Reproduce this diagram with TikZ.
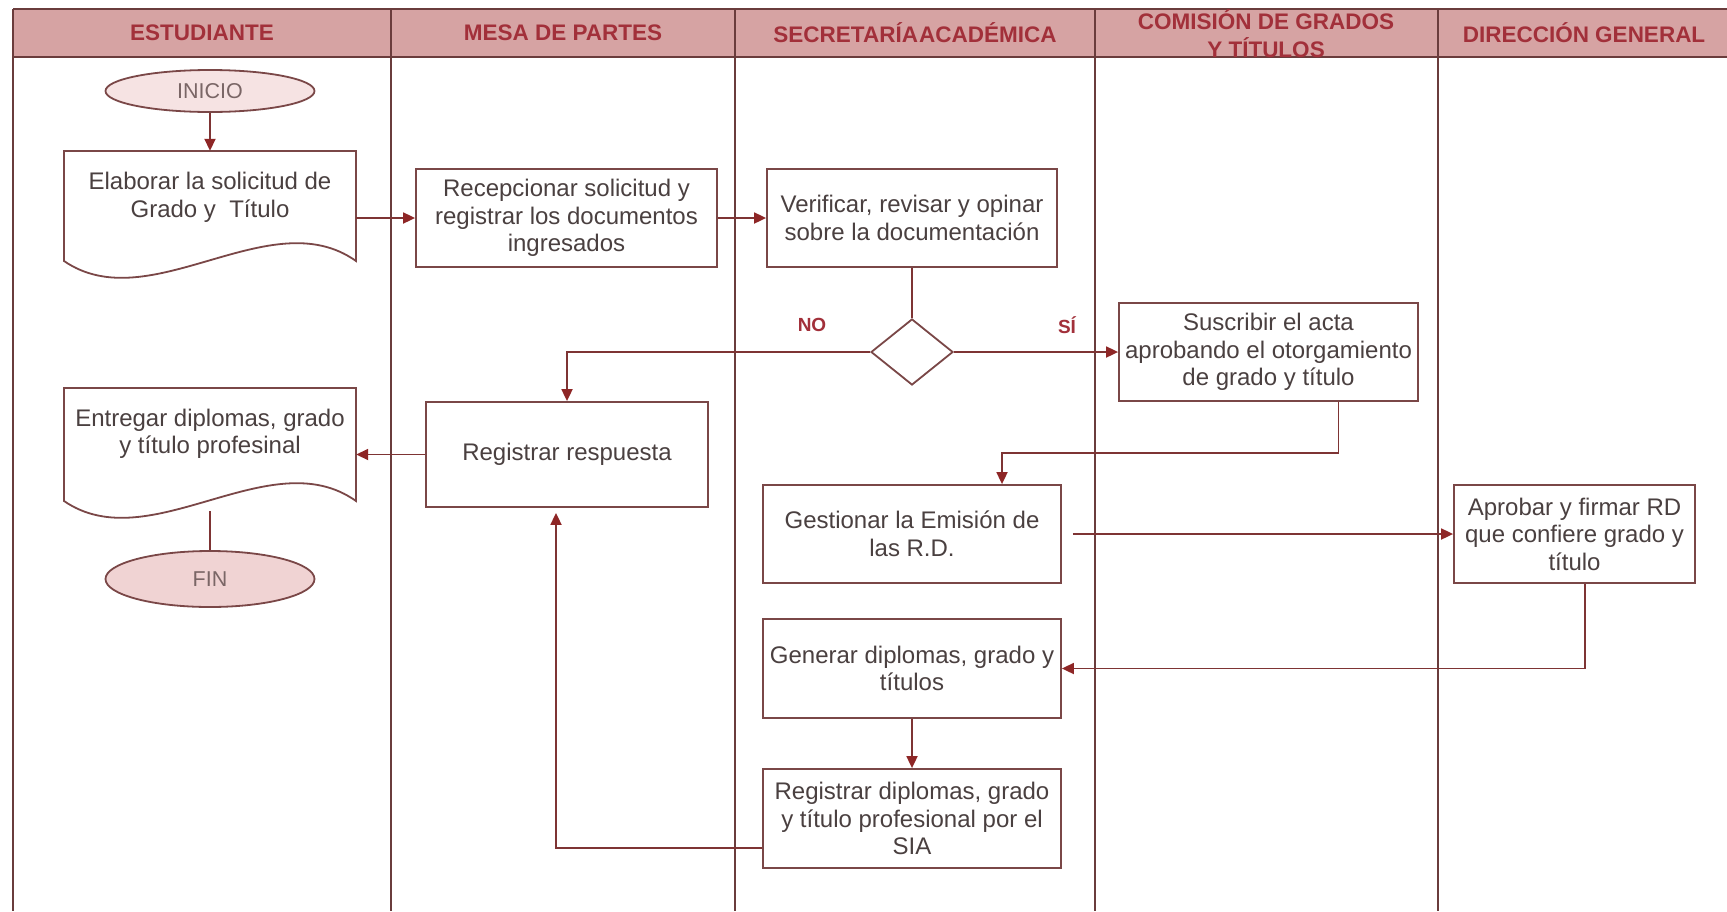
\documentclass[tikz,border=0pt]{standalone}
\usepackage{fontspec}
\setmainfont{Liberation Sans}
\usetikzlibrary{arrows.meta,shapes.geometric}
\definecolor{lanecol}{HTML}{6A3C3C}
\definecolor{boxcol}{HTML}{7A4747}
\definecolor{linecol}{HTML}{7E3434}
\definecolor{arrcol}{HTML}{8E2626}
\definecolor{headfill}{HTML}{D6A3A3}
\definecolor{headtext}{HTML}{A2303A}
\definecolor{txtcol}{HTML}{4A4040}
\definecolor{termtxt}{HTML}{7A6666}
\definecolor{inifill}{HTML}{F6E3E3}
\definecolor{finfill}{HTML}{F0D3D3}
\begin{document}
\begin{tikzpicture}[x=1pt,y=-1pt,
  lane/.style={draw=lanecol,line width=1.8pt},
  headlbl/.style={text=headtext,font=\bfseries\fontsize{22.5}{25}\selectfont,align=center,inner sep=0pt},
  procbox/.style={draw=boxcol,line width=1.8pt,fill=white,align=center,text=txtcol,
     font=\fontsize{24}{27.5}\selectfont,inner sep=0pt},
  docbox/.style={draw=none,inner sep=0pt,minimum width=292pt},
  doctxt/.style={align=center,text=txtcol,font=\fontsize{24}{27.5}\selectfont,inner sep=0pt},
  term/.style={ellipse,draw=boxcol,line width=1.8pt,text=termtxt,
     font=\fontsize{21.5}{24}\selectfont,inner sep=0pt,minimum width=209pt},
  decis/.style={diamond,draw=boxcol,line width=1.8pt,fill=white,inner sep=0pt,
     minimum width=82pt,minimum height=66pt},
  conn/.style={draw=linecol,line width=1.8pt},
  arr/.style={conn,-{Triangle[length=12pt,width=11pt,color=arrcol]}},
  branch/.style={text=headtext,font=\bfseries\fontsize{19}{22}\selectfont,inner sep=0pt}
]
\useasboundingbox (0,0) rectangle (1727,911);
\fill[white] (0,0) rectangle (1727,911);
% header
\fill[headfill] (13,9) rectangle (1727,57);
\draw[lane] (13,9) -- (1727,9);
\draw[lane] (13,57) -- (1727,57);
\foreach \xx in {13,391,735,1095,1438} \draw[lane] (\xx,9) -- (\xx,911);
\node[headlbl] (h1) at (202,33) {ESTUDIANTE};
\node[headlbl] (h2) at (563,33) {MESA DE PARTES};
\node[headlbl] (h3) at (915,33) {SECRETARÍA\hspace{1pt}ACADÉMICA};
\node[headlbl] (h4a) at (1266,20) {COMISIÓN DE GRADOS};
\node[headlbl] (h4b) at (1266,48) {Y TÍTULOS};
\node[headlbl] (h5) at (1584,33) {DIRECCIÓN GENERAL};
% terminals
\node[term,fill=inifill,minimum height=42pt] (ini) at (210,91) {INICIO};
\node[term,fill=finfill,minimum height=56pt] (fin) at (210,579) {FIN};
% documents
\node[docbox,minimum height=110pt] (doc1) at (210,206) {};
\draw[draw=boxcol,line width=1.8pt,fill=white] (64,151) -- (64,261) .. controls (150,320) and (270,200) .. (356,261) -- (356,151) -- cycle;
\node[doctxt] (doc1t) at (210,197.5) {Elaborar la solicitud de\\Grado y~ Título};
\node[docbox,minimum height=113pt] (doc2) at (210,444.5) {};
\draw[draw=boxcol,line width=1.8pt,fill=white] (64,388) -- (64,501) .. controls (150,560) and (270,440) .. (356,501) -- (356,388) -- cycle;
\node[doctxt] (doc2t) at (210,434) {Entregar diplomas, grado\\y título profesinal};
\coordinate (d2b) at (210,511);
% process boxes
\node[procbox,minimum width=301pt,minimum height=98pt] (rec) at (566.5,218) {Recepcionar solicitud y\\registrar los documentos\\ingresados};
\node[procbox,minimum width=290pt,minimum height=98pt] (ver) at (912,218) {Verificar, revisar y opinar\\sobre la documentación};
\node[decis] (dia) at (912,352) {};
\node[branch] (no) at (812,325) {NO};
\node[branch] (si) at (1067,325) {SÍ};
\node[procbox,minimum width=299pt,minimum height=98pt] (sus) at (1268.5,352) {Suscribir el acta\\aprobando el otorgamiento\\de grado y título};
\node[procbox,minimum width=282pt,minimum height=105pt] (resp) at (567,454.5) {Registrar respuesta};
\node[procbox,minimum width=298pt,minimum height=98pt] (ges) at (912,534) {Gestionar la Emisión de\\las R.D.};
\node[procbox,minimum width=241pt,minimum height=98pt] (apr) at (1574.5,534) {Aprobar y firmar RD\\que confiere grado y\\título};
\node[procbox,minimum width=298pt,minimum height=99pt] (gen) at (912,668.5) {Generar diplomas, grado y\\títulos};
\node[procbox,minimum width=298pt,minimum height=99pt] (regd) at (912,818.5) {Registrar diplomas, grado\\y título profesional por el\\SIA};
% connectors
\draw[arr] (ini) -- (doc1.north);
\draw[arr] (rec.west -| doc1.east) -- (rec.west);
\draw[arr] (rec) -- (ver);
\draw[conn] (ver) -- (dia);
\draw[arr] (dia.west) -| (resp.north);
\draw[arr] (dia.east) -- (sus.west);
\draw[arr] ([xshift=70pt]sus.south) -- ++(0,51) -| ([xshift=90pt]ges.north);
\draw[arr] ([xshift=11pt]ges.east) -- (apr.west);
\draw[arr] ([xshift=10.5pt]apr.south) |- (gen.east);
\draw[arr] (gen) -- (regd);
\draw[arr] ([yshift=-29.5pt]regd.west) -| ([xshift=-11pt,yshift=-5pt]resp.south);
\draw[arr] (resp.west) -- (resp.west -| doc2.east);
\draw[conn] (d2b) -- (fin);
\end{tikzpicture}
\end{document}
